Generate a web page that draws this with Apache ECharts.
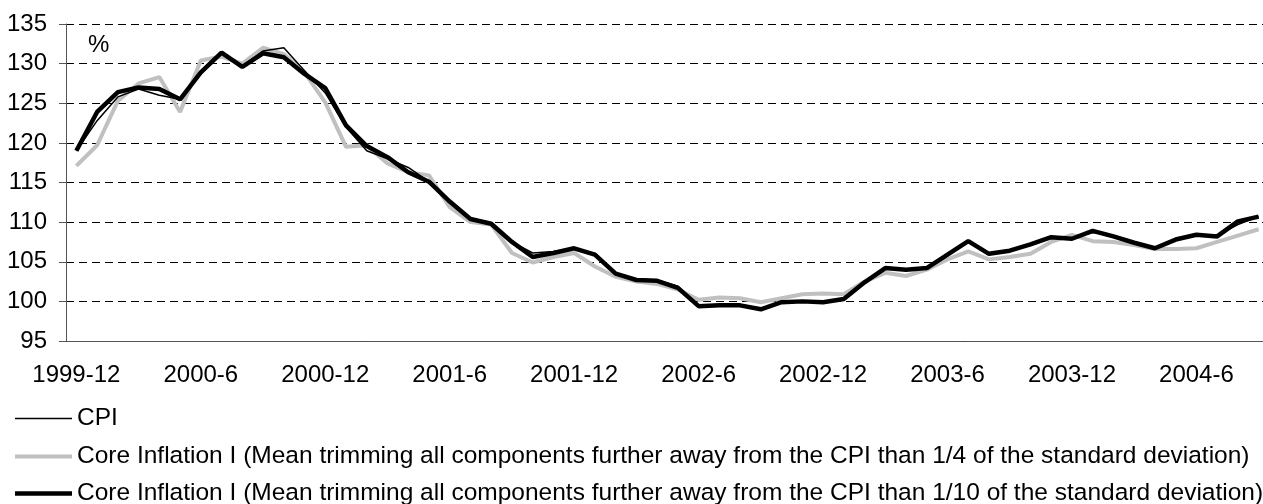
<!DOCTYPE html>
<html>
<head>
<meta charset="utf-8">
<script src="https://cdn.jsdelivr.net/npm/echarts@6/dist/echarts.min.js"></script>
<style>
  html, body { margin: 0; padding: 0; background: #fff; }
  #chart { width: 1263px; height: 504px; }
</style>
</head>
<body>
<div id="chart"></div>
<script>
// months 1999-12 .. 2004-9
var months = []
for (var y = 1999, m = 12; months.length < 58; ) {
  months.push(y + '-' + m)
  m++
  if (m > 12) { m = 1; y++ }
}

var cpi = [
  119.0, 122.8, 125.8, 126.8, 126.0, 125.5, 128.7, 131.4, 129.7, 131.6,
  132.0, 129.1, 126.3, 122.0, 119.0, 118.0, 116.9, 115.1, 112.6, 110.5,
  109.9, 107.5, 106.1, 106.3, 106.7, 106.0, 103.6, 102.8, 102.7, 101.9,
  99.5, 99.6, 99.6, 99.1, 99.9, 100.0, 99.9, 100.3, 102.3, 104.1,
  104.0, 104.1, 105.9, 107.5, 106.1, 106.5, 107.1, 108.1, 108.0, 108.7,
  108.3, 107.4, 106.8, 107.8, 108.4, 108.3, 109.7, 110.7
]

var core4 = [
  117.1, 119.7, 125.3, 127.5, 128.3, 123.9, 130.4, 130.9, 130.0, 132.0,
  131.2, 128.9, 125.1, 119.5, 119.7, 117.4, 116.3, 115.9, 111.9, 110.0,
  109.7, 106.1, 104.9, 105.6, 106.1, 104.4, 103.1, 102.5, 102.2, 101.5,
  100.2, 100.5, 100.4, 99.9, 100.4, 100.9, 101.0, 100.9, 102.5, 103.6,
  103.2, 104.0, 105.3, 106.3, 105.3, 105.6, 106.0, 107.5, 108.4, 107.6,
  107.5, 107.1, 106.6, 106.6, 106.7, 107.5, 108.3, 109.1
]

var core10 = [
  119.0, 123.9, 126.4, 127.0, 126.8, 125.5, 128.9, 131.4, 129.6, 131.3,
  130.8, 128.7, 126.9, 122.2, 119.6, 118.2, 116.3, 115.1, 112.6, 110.4,
  109.8, 107.5, 105.6, 106.1, 106.7, 105.9, 103.5, 102.7, 102.6, 101.7,
  99.4, 99.5, 99.5, 99.0, 99.9, 100.0, 99.9, 100.3, 102.4, 104.2,
  104.0, 104.2, 105.9, 107.6, 106.0, 106.4, 107.2, 108.1, 107.9, 108.9,
  108.2, 107.4, 106.7, 107.8, 108.4, 108.2, 110.1, 110.7
]

var names = [
  'CPI',
  'Core Inflation I (Mean trimming all components further away from the CPI than 1/4 of the standard deviation)',
  'Core Inflation I (Mean trimming all components further away from the CPI than 1/10 of the standard deviation)'
]

var font = 'Liberation Sans, Arial, sans-serif'
var axisColor = '#555'

// one legend per row, icon is a thin rect so it reads as a line sample
function legendRow (name, top, thick) {
  return {
    orient: 'vertical',
    left: 15,
    top: top,
    padding: 0,
    icon: 'rect',
    itemWidth: 57,
    itemHeight: thick,
    textStyle: { fontSize: 24.5, color: '#000', fontFamily: font },
    data: [name]
  }
}

var chart = echarts.init(document.getElementById('chart'))
var option = {
  animation: false,
  backgroundColor: '#fff',
  textStyle: { fontFamily: font },
  grid: {
    left: 66,
    top: 24,
    width: 1203,
    height: 317,
    containLabel: false,
    outerBoundsMode: 'none'
  },
  legend: [
    legendRow(names[0], 406, 1.5),
    legendRow(names[1], 444, 4),
    legendRow(names[2], 481, 4.5)
  ],
  graphic: [{
    type: 'text',
    left: 88,
    top: 33,
    style: { text: '%', fontSize: 24, fill: '#000', fontFamily: font }
  }],
  xAxis: {
    type: 'category',
    data: months,
    boundaryGap: true,
    axisLine: { lineStyle: { color: axisColor, width: 1 } },
    axisTick: { interval: 5, length: 6, lineStyle: { color: axisColor } },
    axisLabel: { interval: 5, margin: 22, fontSize: 24, color: '#000', fontFamily: font },
    splitLine: { show: false }
  },
  yAxis: {
    type: 'value',
    min: 95,
    max: 135,
    interval: 5,
    axisLine: { show: true, lineStyle: { color: axisColor, width: 1 } },
    axisTick: { show: true, length: 7, lineStyle: { color: axisColor } },
    axisLabel: { margin: 19, fontSize: 24, color: '#000', fontFamily: font },
    splitLine: { lineStyle: { color: '#000', width: 1, type: [8, 5] } }
  },
  series: [
    {
      name: names[0],
      type: 'line',
      data: cpi,
      symbol: 'none',
      z: 4,
      lineStyle: { color: '#000', width: 1.5 },
      itemStyle: { color: '#000' }
    },
    {
      name: names[1],
      type: 'line',
      data: core4,
      symbol: 'none',
      z: 2,
      lineStyle: { color: '#c0c0c0', width: 4 },
      itemStyle: { color: '#c0c0c0' }
    },
    {
      name: names[2],
      type: 'line',
      data: core10,
      symbol: 'none',
      z: 3,
      lineStyle: { color: '#000', width: 4.5 },
      itemStyle: { color: '#000' }
    }
  ]
}
chart.setOption(option)
</script>
</body>
</html>
